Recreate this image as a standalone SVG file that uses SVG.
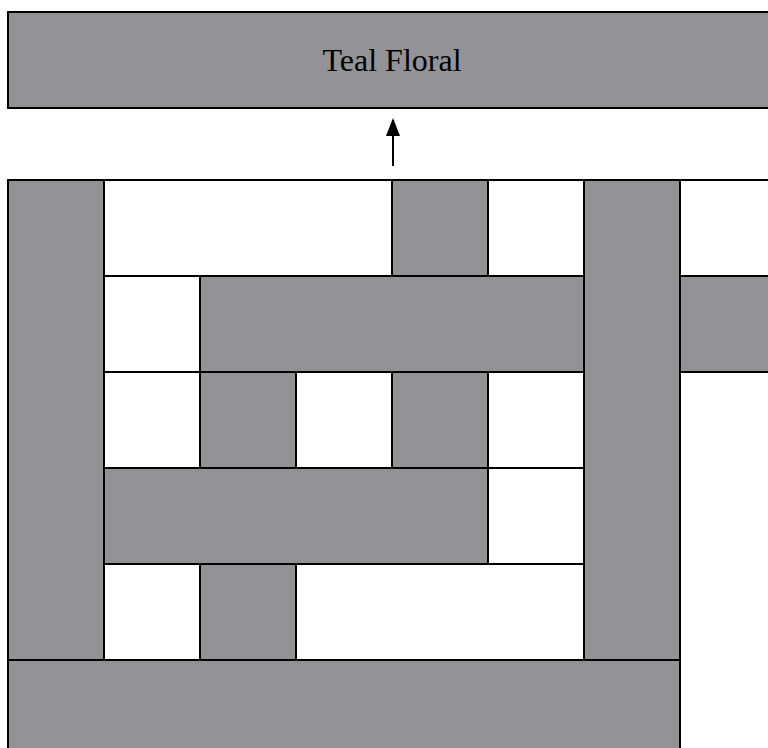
<svg xmlns="http://www.w3.org/2000/svg" width="768" height="748" viewBox="0 0 768 748">
  <style>
    .g { fill: #939397; stroke: #000; stroke-width: 2; }
    .w { fill: #fff; stroke: #000; stroke-width: 2; }
    .lbl { font-family: "Liberation Serif", "Times New Roman", serif; font-size: 32px; fill: #000; }
  </style>
  <defs>
    <marker id="ah" markerWidth="18" markerHeight="14" refX="16" refY="7" orient="auto" markerUnits="userSpaceOnUse" viewBox="0 0 18 14">
      <path d="M0,0 L18,7 L0,14 Z" fill="#000"/>
    </marker>
  </defs>
  <rect width="768" height="748" fill="#fff"/>

  <g id="teal-floral">
    <rect class="g" x="8" y="12" width="768" height="96"/>
    <text class="lbl" x="392" y="71" text-anchor="middle">Teal Floral</text>
  </g>

  <g id="connectors">
    <line x1="393" y1="166" x2="393" y2="120" stroke="#000" stroke-width="2" marker-end="url(#ah)"/>
  </g>

  <g id="white-cells">
    <rect class="w" x="104" y="180" width="288" height="96"/>
    <rect class="w" x="488" y="180" width="96" height="96"/>
    <rect class="w" x="680" y="180" width="96" height="96"/>
    <rect class="w" x="104" y="276" width="96" height="96"/>
    <rect class="w" x="104" y="372" width="96" height="96"/>
    <rect class="w" x="296" y="372" width="96" height="96"/>
    <rect class="w" x="488" y="372" width="96" height="96"/>
    <rect class="w" x="488" y="468" width="96" height="96"/>
    <rect class="w" x="104" y="564" width="96" height="96"/>
    <rect class="w" x="296" y="564" width="288" height="96"/>
  </g>

  <g id="blocks">
    <rect id="b1" class="g" x="8" y="180" width="96" height="480"/>
    <rect id="b2" class="g" x="392" y="180" width="96" height="96"/>
    <rect id="b3" class="g" x="584" y="180" width="96" height="480"/>
    <rect id="b4" class="g" x="200" y="276" width="384" height="96"/>
    <rect id="b5" class="g" x="680" y="276" width="96" height="96"/>
    <rect id="b6" class="g" x="200" y="372" width="96" height="96"/>
    <rect id="b7" class="g" x="392" y="372" width="96" height="96"/>
    <rect id="b8" class="g" x="104" y="468" width="384" height="96"/>
    <rect id="b9" class="g" x="200" y="564" width="96" height="96"/>
    <rect id="b10" class="g" x="8" y="660" width="672" height="96"/>
  </g>
</svg>
